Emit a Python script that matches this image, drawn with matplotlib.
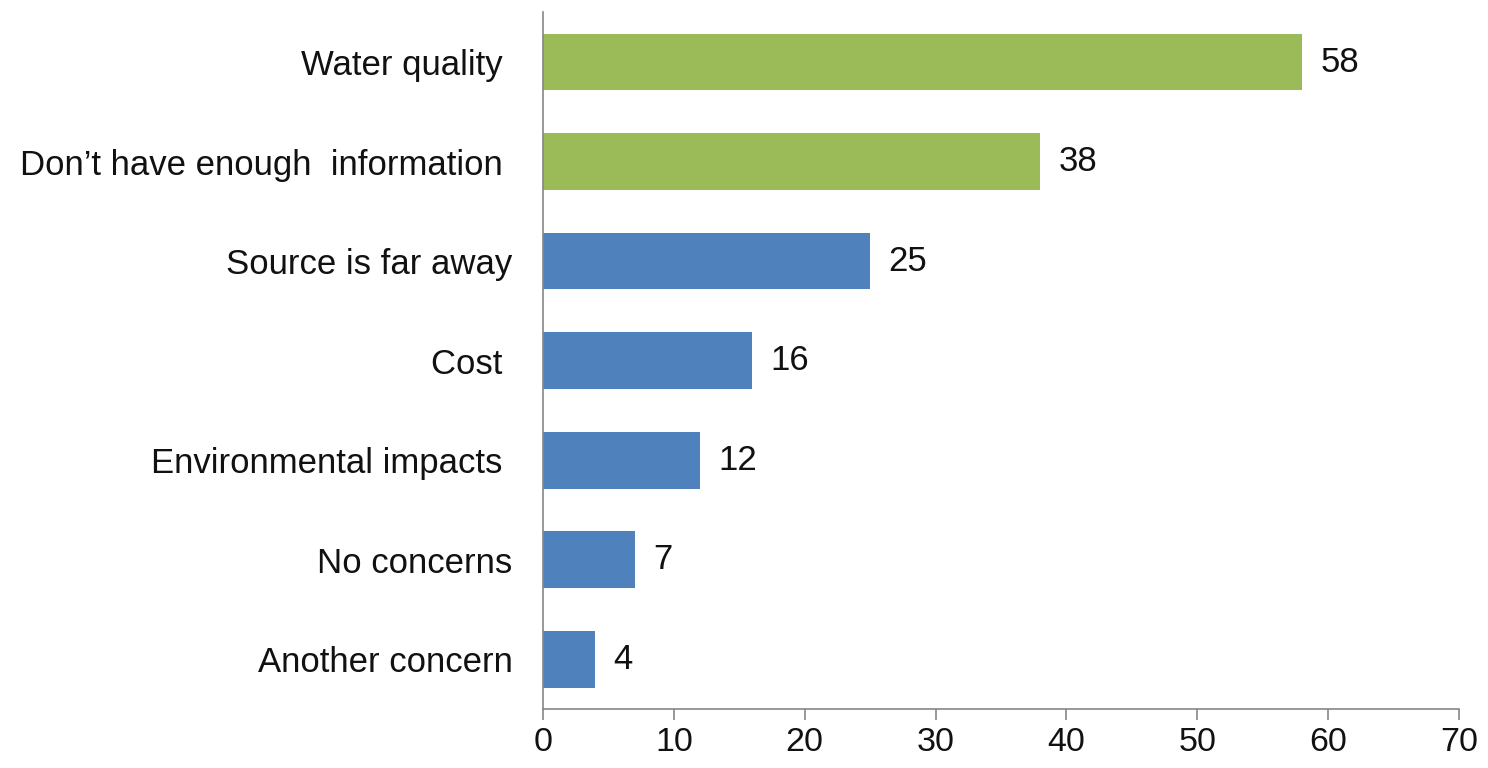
import matplotlib.pyplot as plt

CATEGORIES = ['Water quality ', 'Don\u2019t have enough  information ', 'Source is far away',
              'Cost ', 'Environmental impacts ', 'No concerns', 'Another concern']
VALUES = [58, 38, 25, 16, 12, 7, 4]
COLORS = ['#9BBB59', '#9BBB59', '#4F81BD', '#4F81BD', '#4F81BD', '#4F81BD', '#4F81BD']
XTICKS = [0, 10, 20, 30, 40, 50, 60, 70]

plt.rcParams['font.family'] = ['Liberation Sans', 'DejaVu Sans']

fig = plt.figure(figsize=(14.88, 7.68), dpi=100)
ax = fig.add_axes([0.3649, 0.0768, 0.6156, 0.9072])

pos = list(range(len(CATEGORIES)))
ax.barh(pos, VALUES, height=0.57, color=COLORS)
for p, v in zip(pos, VALUES):
    ax.text(v + 1.4, p, str(v), va='center', ha='left', fontsize=25, color='#111111')

ax.set_ylim(len(CATEGORIES) - 0.5, -0.5)
ax.set_xlim(0, 70)
ax.set_yticks(pos)
ax.set_yticklabels(CATEGORIES, fontsize=25, color='#111111')
ax.set_xticks(XTICKS)
ax.set_xticklabels([str(t) for t in XTICKS], fontsize=24.5, color='#111111')
ax.tick_params(axis='y', length=0, pad=22)
ax.tick_params(axis='x', direction='out', length=8, width=1.2, color='#868686', pad=5)

for s in ['top', 'right']:
    ax.spines[s].set_visible(False)
for s in ['left', 'bottom']:
    ax.spines[s].set_color('#868686')
    ax.spines[s].set_linewidth(1.2)

fig.savefig('out.png', dpi=100)
